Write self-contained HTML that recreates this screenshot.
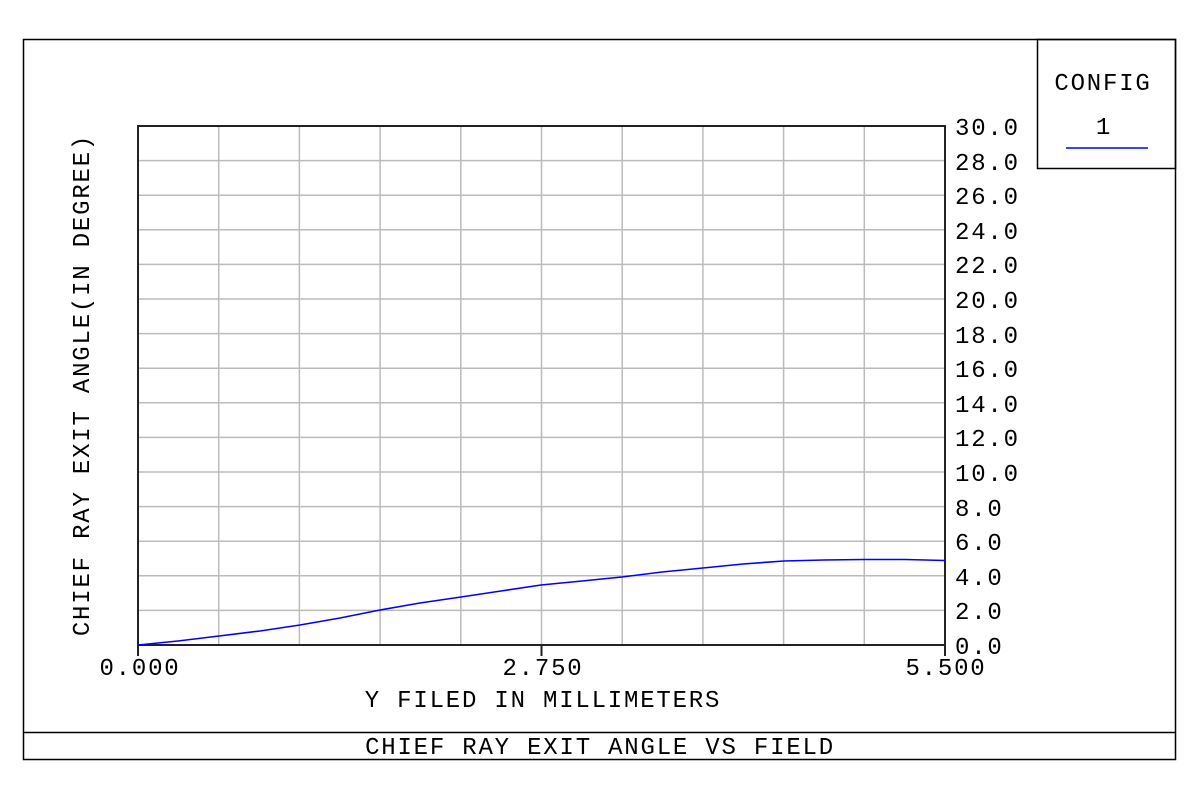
<!DOCTYPE html>
<html><head><style>
body{margin:0;background:#fff}
text{font-family:"Liberation Mono",monospace;font-size:24px;fill:#000;letter-spacing:1.8px}
</style></head><body>
<svg width="1200" height="802" xmlns="http://www.w3.org/2000/svg">
<rect x="23.5" y="39.5" width="1152" height="720" fill="none" stroke="#000" stroke-width="1.5"/>
<line x1="23" y1="732.5" x2="1176" y2="732.5" stroke="#000" stroke-width="1.5"/>
<rect x="1037.5" y="39.5" width="138" height="129" fill="none" stroke="#000" stroke-width="1.5"/>
<line x1="1066" y1="148" x2="1148" y2="148" stroke="#00f" stroke-width="1.5"/>
<text x="1103" y="90" text-anchor="middle">CONFIG</text>
<text x="1104" y="134" text-anchor="middle">1</text>
<g stroke="#bbb" stroke-width="1.5">
<line x1="218.7" y1="126" x2="218.7" y2="645"/><line x1="299.4" y1="126" x2="299.4" y2="645"/>
<line x1="380.1" y1="126" x2="380.1" y2="645"/><line x1="460.8" y1="126" x2="460.8" y2="645"/>
<line x1="541.5" y1="126" x2="541.5" y2="645"/><line x1="622.2" y1="126" x2="622.2" y2="645"/>
<line x1="702.9" y1="126" x2="702.9" y2="645"/><line x1="783.6" y1="126" x2="783.6" y2="645"/>
<line x1="864.3" y1="126" x2="864.3" y2="645"/>
<line x1="138" y1="160.6" x2="945" y2="160.6"/><line x1="138" y1="195.2" x2="945" y2="195.2"/>
<line x1="138" y1="229.8" x2="945" y2="229.8"/><line x1="138" y1="264.4" x2="945" y2="264.4"/>
<line x1="138" y1="299" x2="945" y2="299"/><line x1="138" y1="333.6" x2="945" y2="333.6"/>
<line x1="138" y1="368.2" x2="945" y2="368.2"/><line x1="138" y1="402.8" x2="945" y2="402.8"/>
<line x1="138" y1="437.4" x2="945" y2="437.4"/><line x1="138" y1="472" x2="945" y2="472"/>
<line x1="138" y1="506.6" x2="945" y2="506.6"/><line x1="138" y1="541.2" x2="945" y2="541.2"/>
<line x1="138" y1="575.8" x2="945" y2="575.8"/><line x1="138" y1="610.4" x2="945" y2="610.4"/>
</g>
<rect x="138" y="126" width="807" height="519" fill="none" stroke="#222" stroke-width="2"/>
<line x1="138" y1="645" x2="138" y2="656" stroke="#222" stroke-width="2"/>
<line x1="541.5" y1="645" x2="541.5" y2="656" stroke="#222" stroke-width="2"/>
<line x1="945" y1="645" x2="945" y2="656" stroke="#222" stroke-width="2"/>
<polyline fill="none" stroke="#00f" stroke-width="1.6" points="138,645 178,641 219,636 260,631 300,625 340,618 380,610 420,603 461,597 501,591 541,585 582,581 622,577 662,572 703,568 743,564 784,561 824,560 864,559.5 905,559.5 945,560.5"/>
<g>
<text x="955" y="135">30.0</text><text x="955" y="170">28.0</text><text x="955" y="204">26.0</text>
<text x="955" y="239">24.0</text><text x="955" y="273">22.0</text><text x="955" y="308">20.0</text>
<text x="955" y="343">18.0</text><text x="955" y="377">16.0</text><text x="955" y="412">14.0</text>
<text x="955" y="446">12.0</text><text x="955" y="481">10.0</text><text x="955" y="516">8.0</text>
<text x="955" y="550">6.0</text><text x="955" y="585">4.0</text><text x="955" y="619">2.0</text>
<text x="955" y="654">0.0</text>
</g>
<text x="140" y="675" text-anchor="middle">0.000</text>
<text x="543" y="675" text-anchor="middle">2.750</text>
<text x="946" y="675" text-anchor="middle">5.500</text>
<text x="543" y="707" text-anchor="middle">Y FILED IN MILLIMETERS</text>
<text x="600" y="754" text-anchor="middle">CHIEF RAY EXIT ANGLE VS FIELD</text>
<text transform="translate(89,385) rotate(-90)" text-anchor="middle">CHIEF RAY EXIT ANGLE(IN DEGREE)</text>
</svg>
</body></html>
